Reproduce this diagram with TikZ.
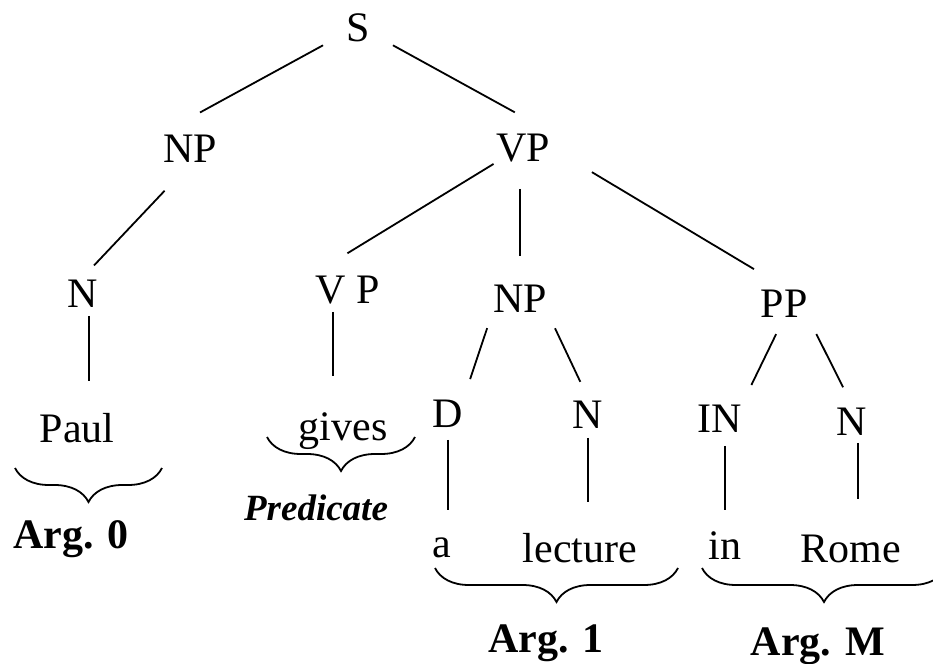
\documentclass[tikz,border=0pt]{standalone}
\usepackage{fontspec}
\setmainfont{Liberation Serif}
\usetikzlibrary{decorations.pathreplacing}
\tikzset{
    every node/.style={inner sep=0pt, text height=29pt, text depth=0pt, anchor=base,
        font=\fontsize{42}{48}\selectfont}
}
\tikzset{arg/.style={font=\fontsize{42}{48}\selectfont\bfseries}}
\tikzset{argbrace/.style={decorate, decoration={brace, mirror, amplitude=34pt}}}

\begin{document}
\begin{tikzpicture}[x=1pt, y=-1pt, line width=1.8pt]
    \useasboundingbox (0, 0) rectangle (933, 663);

    \node (S) [inner xsep=18pt] at (358, 42) {S};
    \node (NP1) at (190, 163) {NP};
    \node (VP1) at (523, 162) {VP};
    \node (N1) at (83, 307) {N};
    \node (VP2) at (348, 303) {V P};
    \node (NP2) at (520, 312) {NP};
    \node (PP) at (784, 317) {PP};
    \node (D) at (448, 427) {D};
    \node (N2) at (588, 428) {N};
    \node (IN) at (720, 432) {IN};
    \node (N3) at (852, 435) {N};

    \node (paul) at (77, 442) {Paul};
    \node (gives) at (343, 440) {gives};
    \node (a) at (442, 557) {a};
    \node (lecture) at (580, 562) {lecture};
    \node (in) at (725, 559) {in};
    \node (rome) at (851, 562) {Rome};

    \draw (S.south west) edge[shorten <=5pt, shorten >=43pt] (NP1.north west);
    \draw (S.south east) edge[shorten <=5pt, shorten >=41pt] (VP1.north east);
    \draw (NP1.south) edge[shorten <=37pt, shorten >=16pt] (N1.north);
    \draw (VP1.south west) edge[shorten <=2pt, shorten >=38pt] (VP2.north west);
    \draw (NP2.north |- VP1.south) edge[shorten <=26pt, shorten >=26pt] (NP2.north);
    \draw (VP1.east) edge[shorten <=48pt, shorten >=35pt] (PP.north);
    \draw (NP2.south west) edge[shorten <=16pt, shorten >=19pt] (D.north east);
    \draw (NP2.south east) edge[shorten <=17pt, shorten >=18pt] (N2.north);
    \draw (PP.south) edge[shorten <=18pt, shorten >=19pt] (IN.north east);
    \draw (PP.south east) edge[shorten <=18pt, shorten >=20pt] (N3.north);

    % leaves
    \draw (N1.290) edge[shorten <=8pt, shorten >=31pt] (N1.290 |- paul.north);
    \draw (VP2.225) edge[shorten <=8pt, shorten >=34pt] (VP2.225 |- gives.north);
    \draw (D.south) edge[shorten <=12pt, shorten >=17pt] (D.south |- a.north);
    \draw (N2.south) edge[shorten <=9pt, shorten >=30pt] (N2.south |- lecture.north);
    \draw (in.north |- IN.south) edge[shorten <=13pt, shorten >=19pt] (in.north);
    \draw (N3.290) edge[shorten <=7pt, shorten >=33pt] (N3.290 |- rome.north);

    % argument braces
    \draw[argbrace] (15, 468) -- (162, 468);
    \draw[argbrace] (267, 437) -- (415, 437);
    \draw[argbrace] (435, 568) -- (678, 568);
    \draw[argbrace] (702, 568) -- (946, 568);

    \node (arg0) [arg] at (71, 548) {Arg. 0};
    \node (pred) [font=\fontsize{37}{42}\selectfont\bfseries\itshape] at (316, 520) {Predicate};
    \node (arg1) [arg] at (546, 652) {Arg. 1};
    \node (argm) [arg] at (818, 655) {Arg. M};
\end{tikzpicture}
\end{document}
